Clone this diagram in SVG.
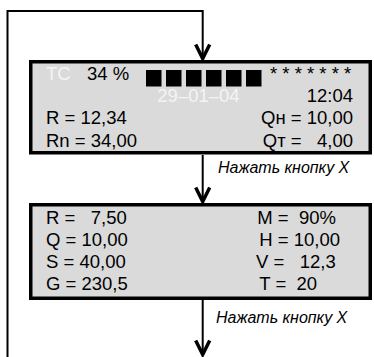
<svg xmlns="http://www.w3.org/2000/svg" width="374" height="357" viewBox="0 0 374 357" xml:space="preserve">
<style>
.box{fill:#dadada;stroke:#000;stroke-width:3.5}
.ln{fill:none;stroke:#000;stroke-width:2}
.t{font-family:"Liberation Sans",Arial,sans-serif;font-size:18.5px;fill:#000;white-space:pre}
.w{fill:#f4f4f4}
.e{text-anchor:end}
.lbl{font-family:"Liberation Sans",Arial,sans-serif;font-size:16px;font-style:italic;fill:#000}
.blk{fill:#000}
</style>
<defs>
<marker id="ah" markerUnits="userSpaceOnUse" markerWidth="20" markerHeight="20" refX="0" refY="0" orient="auto" overflow="visible">
<path d="M-14,-7 L0,0 L-14,7" fill="none" stroke="#000" stroke-width="3.5" stroke-linejoin="miter"/>
</marker>
</defs>
<rect width="374" height="357" fill="#fff"/>
<g id="connectors">
<path class="ln" d="M7.5,357 V11 H202.7 V58.5" marker-end="url(#ah)"/>
<path class="ln" d="M202.7,155 V201.5" marker-end="url(#ah)"/>
<path class="ln" d="M202.7,300 V354.5" marker-end="url(#ah)"/>
<text class="lbl" x="218" y="173.3">Нажать кнопку X</text>
<text class="lbl" x="216" y="323">Нажать кнопку X</text>
</g>
<g id="screen1">
<rect class="box" x="30.75" y="61.75" width="339.5" height="91"/>
<text class="t w" x="46" y="80">TC</text>
<text class="t" x="87" y="80">34 %</text>
<rect class="blk" x="146" y="70" width="15.5" height="16.5"/>
<rect class="blk" x="166" y="70" width="15.5" height="16.5"/>
<rect class="blk" x="186" y="70" width="15.5" height="16.5"/>
<rect class="blk" x="206" y="70" width="15.5" height="16.5"/>
<rect class="blk" x="226" y="70" width="15.5" height="16.5"/>
<rect class="blk" x="246" y="70" width="15.5" height="16.5"/>
<text class="t" x="270" y="80">* * * * * * *</text>
<text class="t w" x="157.3" y="102.3">29–01–04</text>
<text class="t e" x="353" y="102.3">12:04</text>
<text class="t" x="46" y="124.3">R = 12,34</text>
<text class="t e" x="353" y="124.3">Qн = 10,00</text>
<text class="t" x="46" y="146.5">Rn = 34,00</text>
<text class="t e" x="353" y="146.5">Qт =   4,00</text>
</g>
<g id="screen2">
<rect class="box" x="30.75" y="204.75" width="339.5" height="93.5"/>
<text class="t" x="46" y="224">R =   7,50</text>
<text class="t" x="46" y="246">Q = 10,00</text>
<text class="t" x="46" y="268">S = 40,00</text>
<text class="t" x="46" y="290.3">G = 230,5</text>
<text class="t" x="257.3" y="224">M =  90%</text>
<text class="t" x="259.3" y="246">H = 10,00</text>
<text class="t" x="256" y="268">V =   12,3</text>
<text class="t" x="259.3" y="290.3">T =  20</text>
</g>
</svg>
